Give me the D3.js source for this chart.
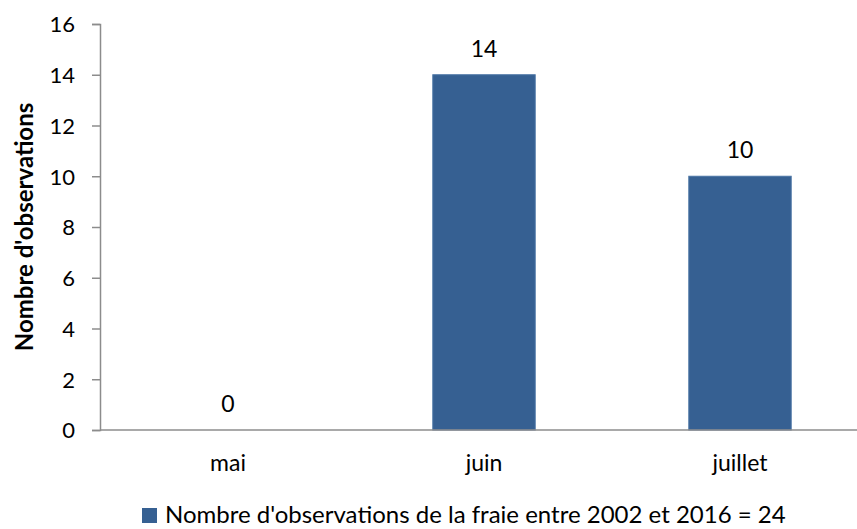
<!DOCTYPE html>
<html>
<head>
<meta charset="utf-8">
<script src="https://cdn.jsdelivr.net/npm/d3@7"></script>
<style>
  body { margin: 0; background: #fff; }
  text { font-family: Lato, "Open Sans", sans-serif; fill: #000; }
</style>
</head>
<body>
<div id="chart"></div>
<script>
var months = ["mai", "juin", "juillet"];
var counts = [0, 14, 10];
var yTicks = [0, 2, 4, 6, 8, 10, 12, 14, 16];
var seriesName = "Nombre d'observations de la fraie entre 2002 et 2016 = 24";
var yTitle = "Nombre d'observations";

var width = 857, height = 529;
var margin = { top: 24, left: 100, bottom: 99 };
var plotBottom = height - margin.bottom;

var svg = d3.select("#chart")
    .append("svg")
    .attr("width", width)
    .attr("height", height);

var x = d3.scaleBand()
    .domain(months)
    .range([margin.left, margin.left + 768])
    .paddingInner(0.6)
    .paddingOuter(0.3);

var y = d3.scaleLinear()
    .domain([0, 16])
    .range([plotBottom, margin.top]);

var barColor = "#366092";
var axisColor = "#8c8c8c";

// y axis
var yAxis = svg.append("g")
    .attr("transform", "translate(" + margin.left + ",0)")
    .call(d3.axisLeft(y).tickValues(yTicks).tickSize(8).tickPadding(17));
yAxis.select(".domain").attr("stroke", axisColor).attr("stroke-width", 1.5);
yAxis.selectAll(".tick line").attr("stroke", axisColor).attr("stroke-width", 1.5);
yAxis.selectAll(".tick text")
    .style("font-size", "22px")
    .attr("dy", "0.36em");

// bars
svg.selectAll(".bar")
    .data(counts)
    .enter()
    .append("rect")
    .attr("class", "bar")
    .attr("x", function (d, i) { return x(months[i]); })
    .attr("y", function (d) { return y(d); })
    .attr("width", x.bandwidth())
    .attr("height", function (d) { return plotBottom - y(d); })
    .attr("fill", barColor)
    .attr("stroke", "#4a74a4")
    .attr("stroke-width", 1);

// x axis
svg.append("line")
    .attr("x1", margin.left)
    .attr("x2", margin.left + 768)
    .attr("y1", plotBottom)
    .attr("y2", plotBottom)
    .attr("stroke", axisColor)
    .attr("stroke-width", 1.5);

svg.selectAll(".xlabel")
    .data(months)
    .enter()
    .append("text")
    .attr("class", "xlabel")
    .attr("x", function (d) { return x(d) + x.bandwidth() / 2; })
    .attr("y", plotBottom + 41)
    .attr("text-anchor", "middle")
    .style("font-size", "23px")
    .text(function (d) { return d; });

// value labels
svg.selectAll(".value")
    .data(counts)
    .enter()
    .append("text")
    .attr("class", "value")
    .attr("x", function (d, i) { return x(months[i]) + x.bandwidth() / 2; })
    .attr("y", function (d) { return y(d) - 18; })
    .attr("text-anchor", "middle")
    .style("font-size", "23px")
    .text(function (d) { return d; });

// y title
svg.append("text")
    .attr("transform", "translate(33," + (margin.top + plotBottom) / 2 + ") rotate(-90)")
    .attr("text-anchor", "middle")
    .style("font-size", "24px")
    .style("font-weight", "bold")
    .text(yTitle);

// legend
var legend = svg.append("g").attr("transform", "translate(142,508)");
legend.append("rect")
    .attr("width", 15)
    .attr("height", 15)
    .attr("fill", barColor);
legend.append("text")
    .attr("x", 23)
    .attr("y", 15)
    .style("font-size", "24px")
    .text(seriesName);
</script>
</body>
</html>
